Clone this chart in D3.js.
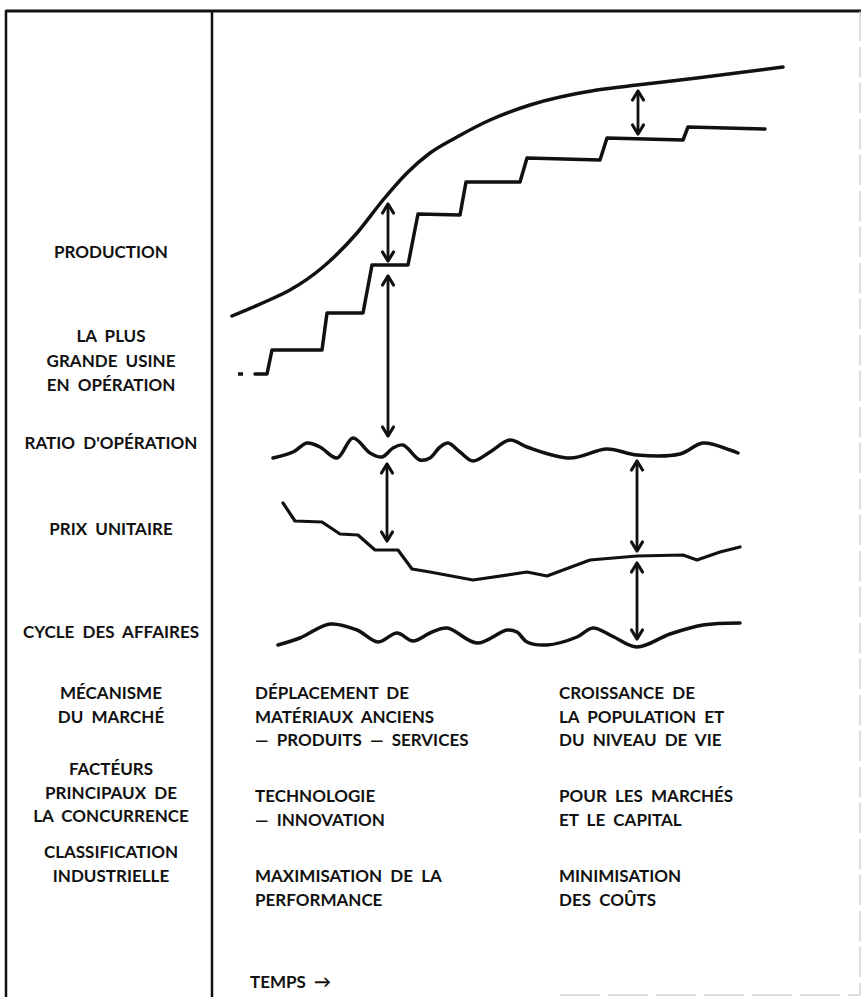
<!DOCTYPE html>
<html>
<head>
<meta charset="utf-8">
<title>temps</title>
<style>
  body { margin: 0; background: #fff; }
  svg text { font-family: Lato, "Noto Sans", sans-serif; font-size: 17px; font-weight: bold; fill: #111; word-spacing: 4px; }
</style>
</head>
<body>
<svg width="861" height="997"></svg>
<script src="https://cdn.jsdelivr.net/npm/d3@7"></script>
<script>
// time t along x, value v up the page (one shared scale for all curves)
var productionT = [2, 37, 60, 93, 127, 153, 177, 200, 227, 260, 300, 367, 407, 467, 553];
var productionV = [334, 349, 360, 383, 417, 450, 477, 497, 513, 530, 545, 560, 565, 572, 583];

var plantDashT = [8, 18];
var plantDashV = [276, 276];
var plantT = [25, 37, 42, 92, 97, 133, 142, 178, 188, 230, 236, 290, 297, 370, 377, 453, 458, 535];
var plantV = [276, 276, 300, 300, 337, 337, 385, 385, 436, 435, 468, 468, 492, 490, 512, 510, 523, 521];

var ratioT = [43, 63, 77, 90, 107, 123, 140, 152, 163, 173, 190, 200, 210, 218, 230, 243, 260, 280, 297, 340, 377, 407, 450, 473, 500, 508];
var ratioV = [192, 198, 207, 203, 192, 212, 197, 193, 202, 205, 190, 192, 203, 207, 198, 189, 198, 210, 203, 192, 201, 195, 196, 207, 200, 197];

var priceT = [53, 65, 92, 110, 128, 145, 168, 182, 200, 243, 297, 317, 360, 407, 453, 467, 490, 510];
var priceV = [147, 129, 128, 116, 115, 100, 100, 81, 78, 70, 78, 74, 90, 94, 95, 90, 98, 103];

var cycleT = [48, 70, 100, 127, 148, 167, 183, 200, 217, 247, 277, 287, 297, 317, 347, 363, 382, 407, 440, 473, 510];
var cycleV = [5, 12, 26, 20, 8, 17, 9, 17, 22, 7, 20, 18, 8, 5, 13, 22, 14, 3, 16, 25, 27];

// gap arrows: [t, v top, v bottom]
var arrowT = [158, 158, 157, 408, 407, 407];
var arrowTop = [447, 375, 187, 560, 190, 88];
var arrowBottom = [388, 213, 108, 515, 98, 10];

var rowLabels = [
  ['PRODUCTION'],
  ['LA PLUS', 'GRANDE USINE', 'EN OPÉRATION'],
  ["RATIO D'OPÉRATION"],
  ['PRIX UNITAIRE'],
  ['CYCLE DES AFFAIRES'],
  ['MÉCANISME', 'DU MARCHÉ'],
  ['FACTÉURS', 'PRINCIPAUX DE', 'LA CONCURRENCE'],
  ['CLASSIFICATION', 'INDUSTRIELLE']
];
var rowLabelY = [258, 342, 449, 535, 638, 699, 775, 858];

var phase1 = [
  ['DÉPLACEMENT DE', 'MATÉRIAUX ANCIENS', '— PRODUITS — SERVICES'],
  ['TECHNOLOGIE', '— INNOVATION'],
  ['MAXIMISATION DE LA', 'PERFORMANCE']
];
var phase2 = [
  ['CROISSANCE DE', 'LA POPULATION ET', 'DU NIVEAU DE VIE'],
  ['POUR LES MARCHÉS', 'ET LE CAPITAL'],
  ['MINIMISATION', 'DES COÛTS']
];
var phaseY = [699, 802, 882];
var timeLabel = 'TEMPS →';

var svg = d3.select('svg');
var x = d3.scaleLinear().domain([0, 560]).range([230, 790]);
var y = d3.scaleLinear().domain([0, 640]).range([650, 10]);

// frame
svg.append('line').attr('x1', 6).attr('x2', 861).attr('y1', 11).attr('y2', 11)
  .attr('stroke', '#111').attr('stroke-width', 3);
svg.append('line').attr('x1', 6).attr('x2', 6).attr('y1', 10).attr('y2', 997)
  .attr('stroke', '#111').attr('stroke-width', 2.5);
svg.append('line').attr('x1', 212).attr('x2', 212).attr('y1', 11).attr('y2', 997)
  .attr('stroke', '#111').attr('stroke-width', 2.5);
svg.append('line').attr('x1', 860).attr('x2', 860).attr('y1', 11).attr('y2', 995)
  .attr('stroke', '#bbb').attr('stroke-width', 1).attr('stroke-dasharray', '30,6');
svg.append('line').attr('x1', 560).attr('x2', 860).attr('y1', 995).attr('y2', 995)
  .attr('stroke', '#bbb').attr('stroke-width', 1).attr('stroke-dasharray', '40,8');

function pts(ts, vs) { return ts.map(function(t, i) { return [t, vs[i]]; }); }

var smooth = d3.line().x(function(d) { return x(d[0]); }).y(function(d) { return y(d[1]); })
  .curve(d3.curveCatmullRom.alpha(0.5));
var mono = d3.line().x(function(d) { return x(d[0]); }).y(function(d) { return y(d[1]); })
  .curve(d3.curveMonotoneX);
var straight = d3.line().x(function(d) { return x(d[0]); }).y(function(d) { return y(d[1]); });

var g = svg.append('g').attr('fill', 'none').attr('stroke', '#111')
  .attr('stroke-linecap', 'round').attr('stroke-linejoin', 'round');

g.append('path').attr('d', mono(pts(productionT, productionV))).attr('stroke-width', 3.5);
g.append('path').attr('d', straight(pts(plantDashT, plantDashV))).attr('stroke-width', 3.5)
  .attr('stroke-dasharray', '5,5').attr('stroke-linecap', 'butt');
g.append('path').attr('d', straight(pts(plantT, plantV))).attr('stroke-width', 3.5);
g.append('path').attr('d', smooth(pts(ratioT, ratioV))).attr('stroke-width', 3.5);
g.append('path').attr('d', straight(pts(priceT, priceV))).attr('stroke-width', 3.2);
g.append('path').attr('d', smooth(pts(cycleT, cycleV))).attr('stroke-width', 3.5);

// double arrows
arrowT.forEach(function(t, i) {
  var ax = x(t), y1 = y(arrowTop[i]), y2 = y(arrowBottom[i]);
  g.append('line').attr('x1', ax).attr('x2', ax).attr('y1', y1 + 2).attr('y2', y2 - 2)
    .attr('stroke-width', 2.8);
  g.append('path').attr('d', 'M' + (ax - 5.5) + ',' + (y1 + 10) + 'L' + ax + ',' + (y1 + 1) + 'L' + (ax + 5.5) + ',' + (y1 + 10))
    .attr('stroke-width', 3.2);
  g.append('path').attr('d', 'M' + (ax - 5.5) + ',' + (y2 - 10) + 'L' + ax + ',' + (y2 - 1) + 'L' + (ax + 5.5) + ',' + (y2 - 10))
    .attr('stroke-width', 3.2);
});

// left column labels
rowLabels.forEach(function(lines, i) {
  var step = i >= 5 ? 23.5 : 24.5;
  lines.forEach(function(s, j) {
    svg.append('text').attr('x', 111).attr('y', rowLabelY[i] + j * step)
      .attr('text-anchor', 'middle').text(s);
  });
});

function block(list, x0) {
  list.forEach(function(lines, i) {
    lines.forEach(function(s, j) {
      svg.append('text').attr('x', x0).attr('y', phaseY[i] + j * 23.5).text(s);
    });
  });
}
block(phase1, 255);
block(phase2, 559);

svg.append('text').attr('x', 250).attr('y', 988).text(timeLabel);
</script>
</body>
</html>
